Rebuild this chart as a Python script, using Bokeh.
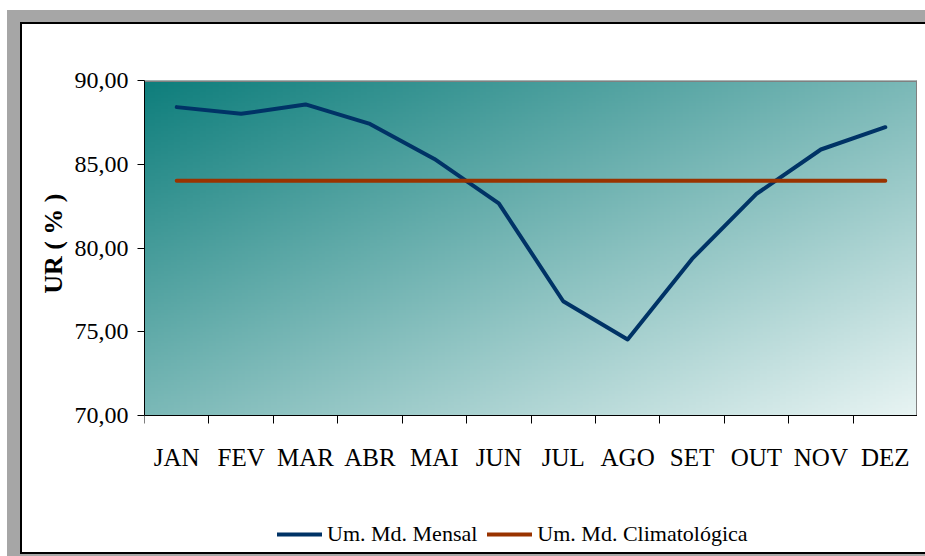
import numpy as np
from bokeh.plotting import figure
from bokeh.models import (Range1d, FixedTicker, Legend, LegendItem, Title)
from bokeh.embed import file_html
from bokeh.resources import INLINE

# ---- data ----
months = ["JAN", "FEV", "MAR", "ABR", "MAI", "JUN", "JUL", "AGO", "SET", "OUT", "NOV", "DEZ"]
mensal = [88.41, 88.01, 88.57, 87.41, 85.32, 82.67, 76.82, 74.54, 79.35, 83.23, 85.88, 87.21]
climatologica = [84.01, 84.01, 84.01, 84.01, 84.01, 84.01, 84.01, 84.01, 84.01, 84.01, 84.01, 84.01]
y_ticks = [70, 75, 80, 85, 90]
y_tick_labels = ["70,00", "75,00", "80,00", "85,00", "90,00"]
y_title = "UR ( % )"
name_mensal = "Um. Md. Mensal"
name_clim = "Um. Md. Climatológica"

FONT = "Liberation Serif"

n = len(months)
xc = [i + 0.5 for i in range(n)]
x0, x1 = 0, n
y0, y1 = y_ticks[0], y_ticks[-1]

# layout (pixels)
W_FIG, H_FIG = 895, 528
TOP, LEFT = 56, 122
PLOT_H = 335                       # height of the 70..90 plot area
FRAME_H = H_FIG - TOP              # frame extends to the bottom (room for legend)
y_bottom = y1 - (y1 - y0) * FRAME_H / PLOT_H

gray = "#A6A6A6"
shadow = ", ".join([
    "-2px 0 0 0 #000", "0 -2px 0 0 #000", "0 2px 0 0 #000",
    "-2px -2px 0 0 #000", "-2px 2px 0 0 #000",
    "271px -265px 0 -263px #000", "271px 265px 0 -263px #000",
    f"-15px -14px 0 0 {gray}", f"-15px 4px 0 0 {gray}",
    f"265px -271px 0 -257px {gray}", f"270px 268px 0 -262px {gray}",
])

p = figure(width=W_FIG, height=H_FIG, output_backend="svg", toolbar_location=None,
           x_range=Range1d(x0, x1), y_range=Range1d(y_bottom, y1),
           min_border_left=LEFT, min_border_right=0, min_border_top=TOP,
           min_border_bottom=0)
p.styles = {"margin-left": "22px", "margin-top": "24px", "box-shadow": shadow}

p.background_fill_color = "white"
p.border_fill_color = "white"
p.outline_line_color = None

# gradient background for the plot area (row 0 = bottom)
H, W = 120, 240
yy, xx = np.mgrid[0:H, 0:W]
t = (xx / (W - 1) + ((H - 1 - yy) / (H - 1))) / 2.0
c0 = np.array([14, 126, 124], dtype=float)
c1 = np.array([232, 244, 243], dtype=float)
img = np.empty((H, W), dtype=np.uint32)
view = img.view(dtype=np.uint8).reshape((H, W, 4))
for k in range(3):
    view[:, :, k] = (c0[k] + (c1[k] - c0[k]) * t).astype(np.uint8)
view[:, :, 3] = 255
p.image_rgba(image=[img], x=x0, y=y0, dw=x1 - x0, dh=y1 - y0)

# grid
p.xgrid.visible = False
p.ygrid.ticker = FixedTicker(ticks=y_ticks[1:-1])
p.ygrid.grid_line_color = "#C0C0C0"
p.ygrid.grid_line_width = 1

# plot-area border (top and right), grey
p.segment(x0=[x0, x1], y0=[y1, y0], x1=[x1, x1], y1=[y1, y1],
          line_color="#808080", line_width=3)

# lines
r1 = p.line(xc, mensal, line_color="#003366", line_width=4, line_cap="round", line_join="round")
r2 = p.line(xc, climatologica, line_color="#993300", line_width=4, line_cap="round")

# y axis
ya = p.yaxis[0]
ya.bounds = (y0, y1)
ya.ticker = FixedTicker(ticks=y_ticks)
ya.major_label_overrides = {t_: l for t_, l in zip(y_ticks, y_tick_labels)}
ya.major_label_text_font = FONT
ya.major_label_text_font_size = "24px"
ya.major_label_text_color = "black"
ya.major_tick_out = 7
ya.major_tick_in = 0
ya.minor_tick_out = 0
ya.minor_tick_in = 0
ya.major_label_standoff = 9
ya.axis_line_color = "black"

p.add_layout(Title(text=y_title, align="right", offset=113, standoff=8,
                   text_font=FONT, text_font_style="bold",
                   text_font_size="26px", text_color="black"), "left")

# x axis fixed at y = 70: labels at centers, ticks at boundaries
xa = p.xaxis[0]
xa.fixed_location = y0
xa.ticker = FixedTicker(ticks=xc, minor_ticks=list(range(n + 1)))
xa.major_label_overrides = {c: m for c, m in zip(xc, months)}
xa.major_label_text_font = FONT
xa.major_label_text_font_size = "25px"
xa.major_label_text_color = "black"
xa.major_tick_out = 0
xa.major_tick_in = 0
xa.minor_tick_out = 8
xa.minor_tick_in = 0
xa.minor_tick_line_color = "black"
xa.major_label_standoff = 20
xa.axis_line_color = "black"

legend = Legend(items=[LegendItem(label=name_mensal, renderers=[r1]),
                       LegendItem(label=name_clim, renderers=[r2])],
                orientation="horizontal", location=(133, 5),
                label_text_font=FONT, label_text_font_size="22px",
                label_text_color="black", glyph_width=45, glyph_height=24,
                label_height=24,
                label_standoff=5, spacing=10, padding=0, margin=0,
                border_line_color=None, background_fill_alpha=0)
p.add_layout(legend, "center")

open("out.html", "w").write(file_html(p, INLINE))
